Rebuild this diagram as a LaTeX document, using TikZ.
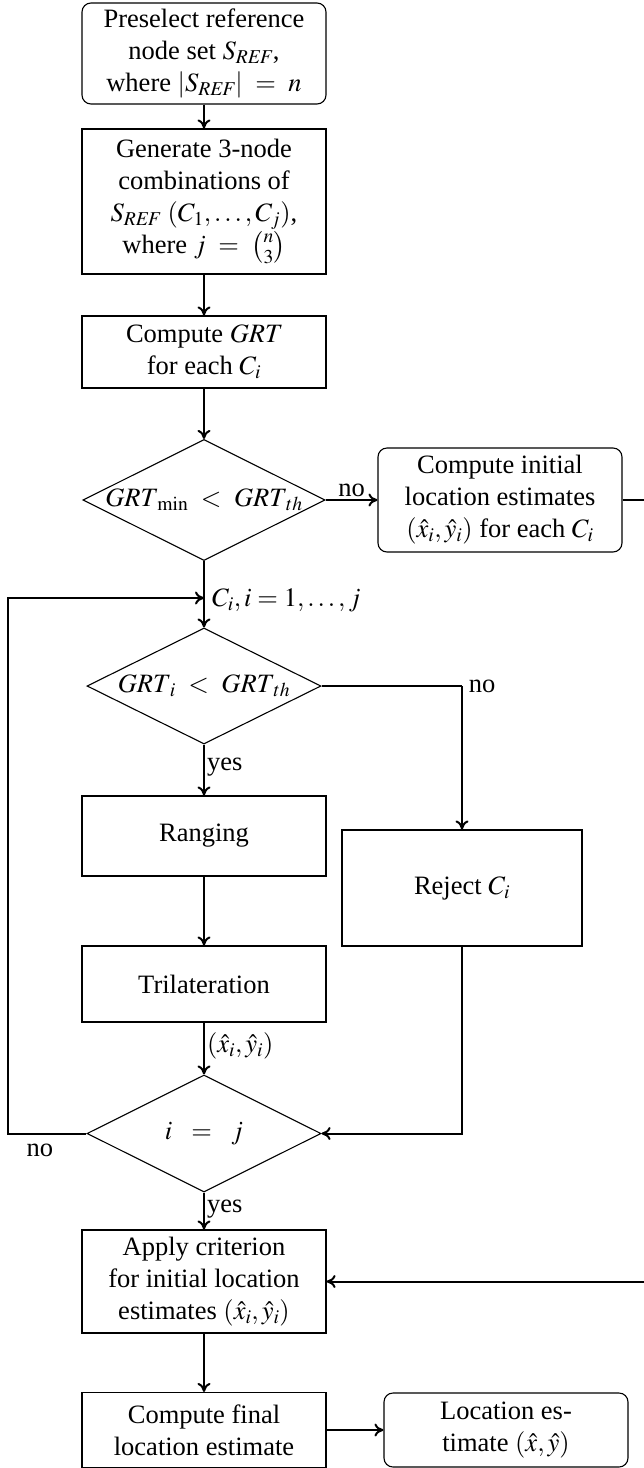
\documentclass[tikz,border=0pt]{standalone}
\usepackage{amsmath}
\usepackage{mathptmx}
\usepackage[no-math]{fontspec}
\setmainfont{Liberation Serif}
\usetikzlibrary{shapes.geometric,arrows.meta}
\begin{document}
\begin{tikzpicture}[x=1pt,y=-1pt,
  every node/.style={font=\fontsize{26.5}{32}\selectfont},
  box/.style={draw, line width=1.1pt, align=center, inner sep=0pt, minimum width=244pt},
  rbox/.style={box, rounded corners=9pt},
  dec/.style={draw, diamond, aspect=2, line width=1.1pt, inner sep=0pt, minimum width=234pt, minimum height=116pt},
  conn/.style={line width=2pt},
  arr/.style={conn, -{To[length=9pt,width=13pt]}},
  lbl/.style={inner sep=2pt}
]
\useasboundingbox (0,0) rectangle (644,1468);

\node[rbox, minimum height=101pt] (pre) at (204,53.5) {Preselect reference\\node set $S_{\mathit{REF}}$,\\where $|S_{\mathit{REF}}|\ =\ n$};
\node[box, minimum height=145pt] (gen) at (204,201.5) {Generate 3-node\\combinations of\\$S_{\mathit{REF}}\ (C_1,\ldots,C_j)$,\\where $j\ =\ \binom{n}{3}$};
\node[box, minimum height=72pt] (grt) at (204,352) {Compute $\mathit{GRT}$\\for each $C_i$};
\node[dec] (d1) at (204,500) {$\mathit{GRT}_{\min}\ <\ \mathit{GRT}_{th}$};
\node[rbox, minimum height=104pt] (init) at (500,500) {Compute initial\\location estimates\\$(\hat{x}_i,\hat{y}_i)$ for each $C_i$};
\node[dec] (d2) at (204,686) {$\mathit{GRT}_i\ <\ \mathit{GRT}_{th}$};
\node[box, minimum height=80pt] (rng) at (204,836) {Ranging};
\node[box, minimum width=240pt, minimum height=116pt] (rej) at (462,888) {Reject $C_i$};
\node[box, minimum height=76pt] (tri) at (204,984) {Trilateration};
\node[dec, minimum height=117pt] (d3) at (204,1133.5) {$i\ \ =\ \ j$};
\node[box, minimum height=103pt] (app) at (204,1281.5) {Apply criterion\\for initial location\\estimates $(\hat{x}_i,\hat{y}_i)$};
\node[box, minimum height=75pt] (fin) at (204,1430) {Compute final\\location estimate};
\node[rbox, minimum height=74pt] (loc) at (506,1430) {Location es-\\timate $(\hat{x},\hat{y})$};

\coordinate (lp) at (204,598);
\coordinate (lc) at (8,1133.5);
\coordinate (rc) at (462,686);
\coordinate (ec) at (664,500);

\draw[arr] (pre) -- (gen);
\draw[arr] (gen) -- (grt);
\draw[arr] (grt) -- (d1);
\draw[arr] (d1) -- node[lbl, above] {no} (init);
\draw[arr] (d1) -- (d2);
\node[lbl, anchor=west] (lc1) at (210,600) {$C_i, i = 1,\ldots,j$};
\draw[arr] (d2) -- node[lbl, right, pos=0.45] {yes} (rng);
\draw[arr] (rng) -- (tri);
\draw[arr] (tri) -- node[lbl, right, pos=0.45] {$(\hat{x}_i,\hat{y}_i)$} (d3);
\draw[conn] (d2.east) -- (rc);
\node[lbl] (no2) at (482,686) {no};
\draw[arr] (rc) -- (rej.north);
\draw[arr] (rej.south) |- (d3.east);
\draw[arr] (d3.west) -- (lc) |- (lp);
\node[lbl] (no3) at (40,1150) {no};
\draw[arr] (d3) -- node[lbl, right, pos=0.45] {yes} (app);
\draw[arr] (init.east) -- (ec) |- (app.east);
\draw[arr] (app) -- (fin);
\draw[arr] (fin) -- (loc);
\end{tikzpicture}
\end{document}
